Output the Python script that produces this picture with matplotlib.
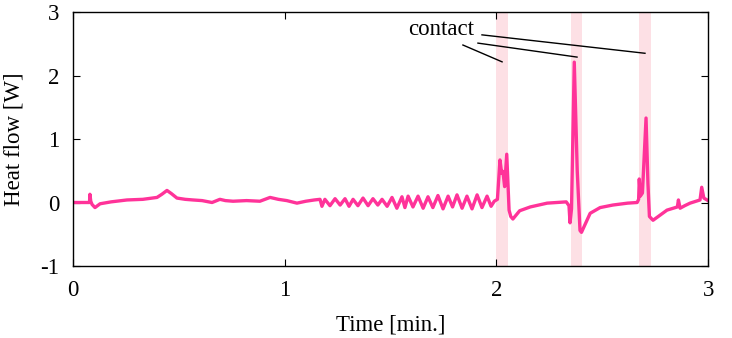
import matplotlib
matplotlib.use("Agg")
import matplotlib.pyplot as plt

plt.rcParams['font.family'] = ['Liberation Serif', 'DejaVu Serif']

# heat flow trace (time in min., heat flow in W)
time = [0.0, 0.078, 0.080, 0.084, 0.090, 0.104, 0.128, 0.18, 0.255, 0.33,
        0.397, 0.42, 0.444, 0.465, 0.491, 0.53, 0.567, 0.61, 0.657, 0.694,
        0.72, 0.756, 0.82, 0.883, 0.931, 0.97, 1.01, 1.058, 1.10, 1.14,
        1.167, 1.176,
        1.190, 1.214, 1.238, 1.262, 1.285, 1.304, 1.323, 1.346, 1.370, 1.394,
        1.417, 1.440, 1.460, 1.484, 1.507, 1.530, 1.554, 1.568, 1.583, 1.606,
        1.630, 1.654, 1.677, 1.700, 1.724, 1.748, 1.772, 1.793, 1.814, 1.838,
        1.861, 1.885, 1.909, 1.932, 1.956, 1.975,
        1.990, 2.005, 2.017, 2.025, 2.031, 2.039, 2.049, 2.060, 2.068, 2.078,
        2.11, 2.16, 2.24, 2.33, 2.343, 2.348, 2.355, 2.368, 2.382, 2.395,
        2.402, 2.443, 2.49, 2.55, 2.62, 2.665, 2.672, 2.675, 2.680, 2.690,
        2.707, 2.716, 2.723, 2.740, 2.806, 2.855, 2.860, 2.868, 2.890, 2.915,
        2.962, 2.970, 2.980, 3.0]
heat = [0.0, 0.0, 0.13, 0.02, -0.03, -0.08, -0.02, 0.01, 0.04, 0.05,
        0.08, 0.13, 0.19, 0.14, 0.07, 0.05, 0.04, 0.03, 0.0, 0.05,
        0.03, 0.02, 0.03, 0.02, 0.08, 0.05, 0.03, -0.01, 0.02, 0.04,
        0.05, -0.06,
        0.05, -0.05, 0.06, -0.04, 0.06, -0.06, 0.05, -0.05, 0.07, -0.05,
        0.06, -0.04, 0.05, -0.06, 0.08, -0.09, 0.09, -0.08, 0.10, -0.07,
        0.10, -0.09, 0.09, -0.08, 0.11, -0.10, 0.10, -0.07, 0.12, -0.09,
        0.10, -0.10, 0.12, -0.08, 0.10, -0.06,
        0.02, 0.05, 0.67, 0.46, 0.49, 0.25, 0.76, -0.12, -0.22, -0.26,
        -0.13, -0.07, -0.01, 0.01, -0.05, -0.32, -0.10, 2.21, 0.50, -0.44,
        -0.47, -0.17, -0.08, -0.04, -0.01, 0.0, 0.05, 0.37, 0.10, 0.15,
        1.33, 0.30, -0.22, -0.28, -0.12, -0.07, 0.04, -0.09, -0.05, -0.01,
        0.04, 0.24, 0.07, 0.03]

# contact periods (shaded)
band_start = [2.000, 2.352, 2.673]
band_end = [2.056, 2.404, 2.730]

# annotation lines: from label to each contact
arrow_from = [(1.842, 2.48), (1.913, 2.51), (1.932, 2.64)]
arrow_to = [(2.027, 2.215), (2.381, 2.29), (2.702, 2.35)]

fig = plt.figure(figsize=(7.32, 3.38), dpi=100)
ax = fig.add_axes([0.0997, 0.213, 0.8676, 0.7515])

for s, e in zip(band_start, band_end):
    ax.axvspan(s, e, color='#fde0e5', lw=0, zorder=0)

ax.plot(time, heat, color='#ff3399', lw=2.4, zorder=2)

ax.text(1.74, 2.73, 'contact', fontsize=16.5, ha='center', va='center')
for (x0, y0), (x1, y1) in zip(arrow_from, arrow_to):
    ax.plot([x0, x1], [y0, y1], color='black', lw=1.0)

ax.set_xlim(0, 3)
ax.set_ylim(-1, 3)
ax.set_xticks([0, 1, 2, 3])
ax.set_yticks([-1, 0, 1, 2, 3])
ax.set_yticklabels(['-1', '0', '1', '2', '3'])
ax.tick_params(direction='in', length=5, width=0.8, labelsize=16.5,
               top=True, right=True)
ax.tick_params(axis='x', pad=10)
ax.tick_params(axis='y', pad=10)
for sp in ax.spines.values():
    sp.set_linewidth(1.0)

ax.set_xlabel('Time [min.]', fontsize=16.5, labelpad=10)
ax.set_ylabel('Heat flow [W]', fontsize=16.5, labelpad=11)

fig.savefig('out.png', dpi=100)
